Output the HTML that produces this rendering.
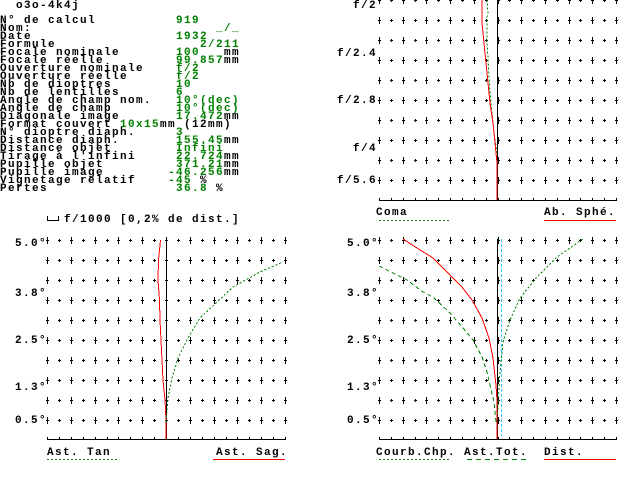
<!DOCTYPE html>
<html><head><meta charset="utf-8"><style>
html,body{margin:0;padding:0;background:#fff;}
svg{display:block}
text{font-family:"Liberation Mono",monospace;font-weight:bold;font-size:11px;letter-spacing:1.4px}
.g{fill:#008000}
</style></head><body>
<svg id="s" width="640" height="480" xmlns="http://www.w3.org/2000/svg" shape-rendering="crispEdges">
<text x="16" y="8">o3o-4k4j</text>
<g>
<text x="0" y="23">N° de calcul</text><text class="g" x="176" y="23">919</text>
<text x="0" y="31">Nom:</text><text class="g" x="216" y="31">_/_</text>
<text x="0" y="39">Date</text><text class="g" x="176" y="39">1932</text>
<text x="0" y="47">Formule</text><text class="g" x="200" y="47">2/211</text>
<text x="0" y="55">Focale nominale</text><text class="g" x="176" y="55">100</text><text x="224" y="55">mm</text>
<text x="0" y="63">Focale réelle</text><text class="g" x="176" y="63">99.857</text><text x="224" y="63">mm</text>
<text x="0" y="71">Ouverture nominale</text><text class="g" x="176" y="71">f/2</text>
<text x="0" y="79">Ouverture réelle</text><text class="g" x="176" y="79">f/2</text>
<text x="0" y="87">Nb de dioptres</text><text class="g" x="176" y="87">10</text>
<text x="0" y="95">Nb de lentilles</text><text class="g" x="176" y="95">6</text>
<text x="0" y="103">Angle de champ nom.</text><text class="g" x="176" y="103">10°(dec)</text>
<text x="0" y="111">Angle de champ</text><text class="g" x="176" y="111">10°(dec)</text>
<text x="0" y="119">Diagonale image</text><text class="g" x="176" y="119">17.472</text><text x="224" y="119">mm</text>
<text x="0" y="127">Format couvert</text><text class="g" x="120" y="127">10x15</text><text x="160" y="127">mm (12mm)</text>
<text x="0" y="135">N° dioptre diaph.</text><text class="g" x="176" y="135">3</text>
<text x="0" y="143">Distance diaph.</text><text class="g" x="176" y="143">155.45</text><text x="224" y="143">mm</text>
<text x="0" y="151">Distance objet</text><text class="g" x="176" y="151">Infini</text>
<text x="0" y="159">Tirage à l'infini</text><text class="g" x="176" y="159">22.724</text><text x="224" y="159">mm</text>
<text x="0" y="167">Pupille objet</text><text class="g" x="176" y="167">371.21</text><text x="224" y="167">mm</text>
<text x="0" y="175">Pupille image</text><text class="g" x="168" y="175">-46.256</text><text x="224" y="175">mm</text>
<text x="0" y="183">Vignetage relatif</text><text class="g" x="168" y="183">-45 </text><text x="200" y="183">%</text>
<text x="0" y="191">Pertes</text><text class="g" x="176" y="191">36.8 </text><text x="216" y="191">%</text>
</g>
<g id="grid" fill="#000"></g>
<g text-anchor="end">
<text x="377" y="8">f/2</text><text x="377" y="56">f/2.4</text><text x="377" y="103">f/2.8</text><text x="377" y="151">f/4</text><text x="377" y="183">f/5.6</text>
<text x="47" y="246">5.0°</text><text x="47" y="296">3.8°</text><text x="47" y="343">2.5°</text><text x="47" y="390">1.3°</text><text x="47" y="423">0.5°</text>
<text x="379" y="246">5.0°</text><text x="379" y="296">3.8°</text><text x="379" y="343">2.5°</text><text x="379" y="390">1.3°</text><text x="379" y="423">0.5°</text>
</g>
<path d="M47.5,216 V220.5 H58.5 V216" fill="none" stroke="#000"/>
<text x="64" y="222">f/1000 [0,2% de dist.]</text>
<text x="376" y="215">Coma</text><line x1="379" y1="220.5" x2="449" y2="220.5" stroke="#008000" stroke-dasharray="2,2"/>
<text x="544" y="215">Ab. Sphé.</text><line x1="544" y1="220.5" x2="616" y2="220.5" stroke="#f00"/>
<text x="47" y="455">Ast. Tan</text><line x1="47" y1="459.5" x2="117" y2="459.5" stroke="#008000" stroke-dasharray="2,2"/>
<text x="216" y="455">Ast. Sag.</text><line x1="213" y1="459.5" x2="285" y2="459.5" stroke="#f00"/>
<text x="376" y="455">Courb.Chp.</text><line x1="379" y1="459.5" x2="449" y2="459.5" stroke="#008000" stroke-dasharray="2,2"/>
<text x="464" y="455">Ast.Tot.</text><line x1="467" y1="459.5" x2="527" y2="459.5" stroke="#008000" stroke-dasharray="5,4"/>
<text x="544" y="455">Dist.</text><line x1="544" y1="459.5" x2="616" y2="459.5" stroke="#f00"/>
<line x1="497.5" y1="0" x2="497.5" y2="200" stroke="#000"/>
<line x1="166.5" y1="239" x2="166.5" y2="439" stroke="#000"/>
<line x1="497.5" y1="239" x2="497.5" y2="439" stroke="#000"/>
<line x1="501.5" y1="239" x2="501.5" y2="436" stroke="#3cf" stroke-dasharray="3,2"/>
<g fill="none">
<polyline stroke="#008000" stroke-dasharray="2,2" points="497,153 494,133 492,113 490,93 488,60 487,40 487,17 488,13 487,0"/>
<polyline stroke="#f00" points="497,200 497,163 495,143 493,123 490,103 488,83 486,63 484,43 482,23 482,0"/>
<polyline stroke="#f00" points="166,439 166,420 165,400 163,380 162,360 161,340 160,320 159.5,300 158,280 158.5,260 160,245 160.5,240"/>
<polyline stroke="#008000" stroke-dasharray="2,2" points="166,422 168,398 172,378 178,358 188,338 200,318 217,302 233,287 260,272 283,262"/>
<polyline stroke="#008000" stroke-dasharray="4,3" points="496,422 494,402 487,372 482,357 473,340 463,328 450,313 433,297 423,292 407,280 379,266"/>
<polyline stroke="#008000" stroke-dasharray="2,2" points="497,422 500,372 503,342 510,320 520,298 537,277 557,257 583,239"/>
<polyline stroke="#f00" points="497,439 497,400 496,385 493,358 489,338 482,318 472,300 462,287 450,275 433,258 417,248 403,239"/>
</g>
</svg>
<script>
(function(){
var g=document.getElementById('grid'),h='';
function chart(x0,x1,ys,ay){
 var dx=(x1-x0)/20;
 for(var i=0;i<=20;i++){
  var x=Math.round(x0+i*dx);
  ys.forEach(function(y){
   if(i%2==0){h+='<rect x="'+x+'" y="'+(y-3)+'" width="1" height="7"/><rect x="'+(x-1)+'" y="'+y+'" width="3" height="1"/>';}
   else{h+='<rect x="'+x+'" y="'+(y-1)+'" width="1" height="3"/><rect x="'+(x-1)+'" y="'+y+'" width="3" height="1"/>';}
  });
  h+='<rect x="'+x+'" y="'+(ay-2)+'" width="1" height="2"/>';
 }
 h+='<rect x="'+x0+'" y="'+ay+'" width="'+(x1-x0+1)+'" height="1"/>';
}
var t=[],b=[];for(var k=0;k<10;k++){t.push(k*20);b.push(240+k*20);}
chart(379,616,t,200);chart(47,285,b,439);chart(379,616,b,439);
g.innerHTML=h;
})();
</script>
</body></html>
